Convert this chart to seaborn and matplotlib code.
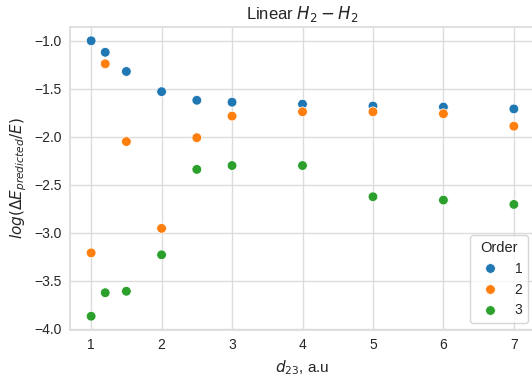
import numpy as np
import pandas as pd
import matplotlib
matplotlib.use("Agg")
import matplotlib.pyplot as plt
import seaborn as sns

distances = [1, 1.2, 1.5, 2, 2.5, 3, 4, 5, 6, 7]
order_labels = ["1", "2", "3"]
order1 = [-1.00, -1.12, -1.32, -1.53, -1.62, -1.64, -1.66, -1.68, -1.69, -1.71]
order2 = [-3.21, -1.24, -2.05, -2.955, -2.01, -1.785, -1.74, -1.74, -1.76, -1.89]
order3 = [-3.87, -3.625, -3.61, -3.23, -2.34, -2.30, -2.30, -2.625, -2.66, -2.705]

df = pd.DataFrame({
    "d": distances * 3,
    "val": order1 + order2 + order3,
    "Order": [order_labels[0]] * len(distances) + [order_labels[1]] * len(distances) + [order_labels[2]] * len(distances),
})

sns.set_theme(style="whitegrid", rc={
    "grid.color": "#dcdcdc", "axes.edgecolor": "#dcdcdc",
    "xtick.major.size": 0, "ytick.major.size": 0,
    "xtick.major.pad": 6, "ytick.major.pad": 6,
    "xtick.labelsize": 10, "ytick.labelsize": 10,
    "axes.labelsize": 11, "axes.titlesize": 12,
    "legend.fontsize": 10, "legend.title_fontsize": 10.5,
})
plt.rcParams["font.family"] = ["Liberation Sans", "DejaVu Sans"]

DPI = 100
fig = plt.figure(figsize=(532 / DPI, 376 / DPI), dpi=DPI)
ax = fig.add_axes([70 / 532, (376 - 330) / 376, (535 - 70) / 532, (330 - 27) / 376])
sns.scatterplot(data=df, x="d", y="val", hue="Order", palette="tab10", s=49, ax=ax)
ax.set_title(r"Linear $H_2-H_2$")
ax.set_xlabel(r"$d_{23}$, a.u")
ax.set_ylabel(r"$log(\Delta E_{predicted}/E)$")
ax.legend(title="Order", loc="lower right")
fig.savefig("out.png", dpi=DPI)
